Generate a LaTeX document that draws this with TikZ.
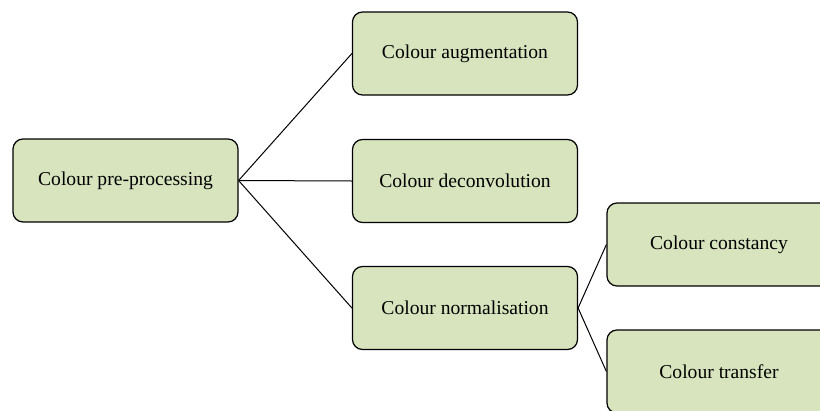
\documentclass[tikz,border=0pt]{standalone}
\usepackage{fontspec}
\setmainfont{Liberation Serif}
\definecolor{boxgreen}{RGB}{215,228,189}

\begin{document}
\begin{tikzpicture}[x=1pt,y=-1pt,
  stage node/.style={draw,line width=1.2pt,rounded corners=10pt,fill=boxgreen,
    minimum width=225pt,minimum height=83pt,inner sep=0pt,
    font=\fontsize{19.6}{23}\selectfont},
  sub node/.style={stage node,minimum width=224pt}]

  \useasboundingbox (0,0) rectangle (820,410);
  \clip (0,0) rectangle (820,410);

  \node[stage node] (n0) at (125.5,180.5) {Colour pre-processing};
  \node[stage node] (n1) at (465,53.5) {Colour augmentation};
  \node[stage node] (n2) at (465,181) {Colour deconvolution};
  \node[stage node] (n3) at (465,308) {Colour normalisation};
  \node[sub node] (n4) at (719,244.5) {Colour constancy};
  \node[sub node] (n5) at (719,371.5) {Colour transfer};
 \path[]
 (n0.east) [-,line width=1pt] edge node [] {} (n1.west)
 (n0.east) [-,line width=1pt] edge node [] {} (n2.west)
 (n0.east) [-,line width=1pt] edge node [] {} (n3.west)
 (n3.east) [-,line width=1pt] edge node [] {} (n4.west)
 (n3.east) [-,line width=1pt] edge node [] {} (n5.west);
\end{tikzpicture}
\end{document}
